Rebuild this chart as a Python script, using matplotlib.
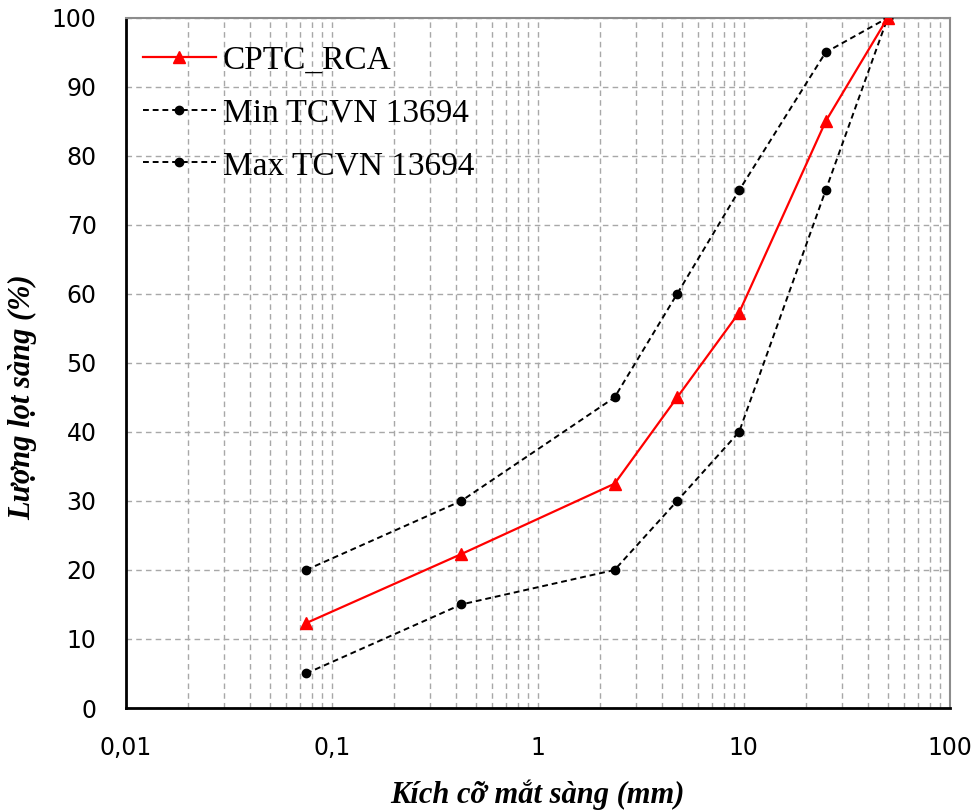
import matplotlib
matplotlib.use('Agg')
import matplotlib.pyplot as plt
from matplotlib.ticker import FuncFormatter, LogLocator, MultipleLocator

# sieve sizes (mm) and passing percentages
sieve_mm = [0.075, 0.425, 2.36, 4.75, 9.5, 25, 50]
cptc_rca = [12.3, 22.3, 32.5, 45, 57.3, 85, 100]
min_tcvn = [5, 15, 20, 30, 40, 75, 100]
max_tcvn = [20, 30, 45, 60, 75, 95, 100]

fig = plt.figure(figsize=(9.76, 8.11), dpi=100)
ax = fig.add_axes([0.129, 0.127, 0.844, 0.851])

ax.plot(sieve_mm, cptc_rca, color='red', lw=1.6, marker='^', ms=8,
        label='CPTC_RCA', zorder=4)
ax.plot(sieve_mm, min_tcvn, color='black', lw=1.4, ls=(0, (3, 2)),
        marker='o', ms=6, label='Min TCVN 13694', zorder=3)
ax.plot(sieve_mm, max_tcvn, color='black', lw=1.4, ls=(0, (3, 2)),
        marker='o', ms=6, label='Max TCVN 13694', zorder=3)

ax.set_xscale('log')
ax.set_xlim(0.01, 100)
ax.set_ylim(0, 100)
ax.yaxis.set_major_locator(MultipleLocator(10))
ax.xaxis.set_major_locator(LogLocator(base=10))
ax.xaxis.set_minor_locator(LogLocator(base=10, subs=range(2, 10)))
ax.xaxis.set_major_formatter(
    FuncFormatter(lambda v, p: ('%g' % v).replace('.', ',')))

# dashed grid everywhere
ax.grid(which='both', axis='x', color='#a8a8a8', ls=(0, (4, 3)), lw=1)
ax.grid(which='major', axis='y', color='#a8a8a8', ls=(0, (4, 3)), lw=1)
ax.set_axisbelow(True)

ax.tick_params(which='both', length=0, labelsize=17)
ax.tick_params(axis='x', pad=20)
ax.tick_params(axis='y', pad=21)
for lab in ax.get_xticklabels() + ax.get_yticklabels():
    lab.set_fontfamily('DejaVu Sans')

for s in ['left', 'bottom']:
    ax.spines[s].set_color('black')
    ax.spines[s].set_linewidth(2)
for s in ['top', 'right']:
    ax.spines[s].set_color('#8c8c8c')
    ax.spines[s].set_linewidth(1.5)

lbl = dict(family='Liberation Serif', weight='bold', style='italic', size=22)
ax.set_xlabel('Kích cỡ mắt sàng (mm)', **lbl)
ax.set_ylabel('Lượng lọt sàng (%)', **lbl)
ax.xaxis.set_label_coords(0.5, -0.104)
ax.yaxis.set_label_coords(-0.108, 0.45)

ax.legend(loc='upper left', bbox_to_anchor=(0.004, 0.98), frameon=False,
          prop={'family': 'Liberation Serif', 'size': 24},
          handlelength=2.2, handletextpad=0.2, labelspacing=0.67,
          borderaxespad=0)

plt.savefig('out.png', dpi=100)
